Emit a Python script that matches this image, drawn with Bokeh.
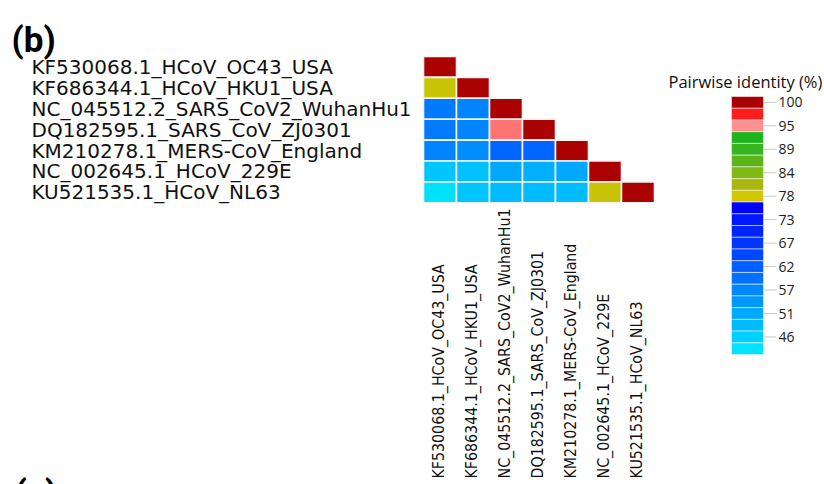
import numpy as np
from bokeh.plotting import figure
from bokeh.models import Range1d, ColumnDataSource, LinearColorMapper
from bokeh.transform import transform
from bokeh.core.properties import value
from bokeh.embed import file_html
from bokeh.resources import INLINE

# ---------------- data ----------------
names = [
    "KF530068.1_HCoV_OC43_USA",
    "KF686344.1_HCoV_HKU1_USA",
    "NC_045512.2_SARS_CoV2_WuhanHu1",
    "DQ182595.1_SARS_CoV_ZJ0301",
    "KM210278.1_MERS-CoV_England",
    "NC_002645.1_HCoV_229E",
    "KU521535.1_HCoV_NL63",
]

# lower triangle of pairwise identity (%), row i has i+1 values
identity = [
    [100],
    [79, 100],
    [58, 57, 100],
    [58, 57, 95.2, 100],
    [57, 55.5, 61, 61, 100],
    [47, 47.7, 51, 50, 51, 100],
    [43.5, 47, 48.5, 48.5, 48.5, 79, 100],
]

# legend colour steps, top (100%) to bottom
legend_colors = [
    "#a80000", "#ff1c1c", "#ff9090", "#1eb41e", "#38b41e", "#5ab41a",
    "#80b814", "#a8b810", "#d0c800", "#0000ff", "#0018ff", "#0024ff",
    "#0038ff", "#0048ff", "#0060ff", "#0070ff", "#0088ff", "#0098ff",
    "#00a8ff", "#00bcff", "#00d0ff", "#00e4ff",
]
legend_labels = ["100", "95", "89", "84", "78", "73", "67", "62", "57", "51", "46"]
legend_top_value = 100.0
legend_step = 2.715      # identity % per colour step

title_text = "(b)"
next_panel_text = "(c)"
legend_title = "Pairwise identity (%)"

# ---------------- layout constants ----------------
W, H = 824, 484
mx0, my0 = 423.0, 56.0          # matrix top-left (page px)
cw, ch = 33.0, 20.9             # cell size
lx0, ly0 = 731.0, 96.0          # legend bar top-left
lw, lh = 32.0, 11.73            # legend step size

COND = value("'DejaVu Sans Condensed', Roboto, sans-serif")

# ---------------- colour mapper ----------------
n_anchor = len(legend_colors)
anchor_vals = np.array([legend_top_value - legend_step * i for i in range(n_anchor)])[::-1]
anchor_rgb = np.array([[int(c[k:k + 2], 16) for k in (1, 3, 5)] for c in legend_colors[::-1]], float)
low, high = anchor_vals[0], anchor_vals[-1]
N = 400
centers = low + (np.arange(N) + 0.5) * (high - low) / N
fine = []
for v in centers:
    r, g, b = (np.interp(v, anchor_vals, anchor_rgb[:, k]) for k in range(3))
    fine.append("#%02x%02x%02x" % (int(round(r)), int(round(g)), int(round(b))))
mapper = LinearColorMapper(palette=fine, low=low, high=high)

# ---------------- figure ----------------
p = figure(width=W, height=H, x_range=Range1d(0, W), y_range=Range1d(H, 0),
           output_backend="svg", toolbar_location=None, min_border=0,
           background_fill_color="white", border_fill_color="white")
p.axis.visible = False
p.grid.visible = False
p.outline_line_color = None

# matrix cells
xs, ys, vals = [], [], []
for i, row in enumerate(identity):
    for j, v in enumerate(row):
        xs.append(mx0 + cw * (j + 0.5))
        ys.append(my0 + ch * (i + 0.5))
        vals.append(v)
src = ColumnDataSource(dict(x=xs, y=ys, val=vals))
p.rect(x="x", y="y", width=cw, height=ch, source=src,
       fill_color=transform("val", mapper), line_color="#f4f4f4", line_width=1.6)

# row labels
p.text(x=[31] * len(names), y=[my0 + ch * (i + 0.5) for i in range(len(names))], text=names,
       text_font=value("DejaVu Sans"), text_font_size="20px", text_color="#111111",
       text_align="left", text_baseline="middle")

# column labels (rotated)
p.text(x=[mx0 + cw * (j + 0.5) - 2 for j in range(len(names))], y=[478] * len(names), text=names,
       angle=np.pi / 2, text_font=COND, text_font_size="15.8px",
       text_color="#111111", text_align="left", text_baseline="middle")

# legend bar
p.rect(x=[lx0 + lw / 2] * n_anchor, y=[ly0 + lh * (i + 0.5) for i in range(n_anchor)],
       width=lw, height=lh, fill_color=legend_colors, line_color="white", line_alpha=0.5, line_width=1)
tick_y = [ly0 + lh * (2 * k + 0.5) for k in range(len(legend_labels))]
p.segment(x0=[lx0 + lw] * len(tick_y), y0=tick_y, x1=[lx0 + lw + 13] * len(tick_y), y1=tick_y,
          line_color="#c8c8c8", line_width=1)
p.text(x=[lx0 + lw + 15] * len(tick_y), y=tick_y, text=legend_labels,
       text_font=value("Open Sans"), text_font_size="14px", text_color="#222222",
       text_align="left", text_baseline="middle")
p.text(x=[668], y=[81], text=[legend_title], text_font=value("Open Sans"),
       text_font_size="16.5px", text_color="#111111", text_align="left", text_baseline="middle")

# panel letters
p.text(x=[11], y=[40], text=[title_text], text_font=value("Roboto"),
       text_font_style="bold", text_font_size="35px", text_color="black",
       text_align="left", text_baseline="alphabetic")
p.text(x=[14], y=[472], text=[next_panel_text], text_font=value("Roboto"),
       text_font_style="bold", text_font_size="35px", text_color="black",
       text_align="left", text_baseline="top")

open("out.html", "w").write(file_html(p, INLINE))
